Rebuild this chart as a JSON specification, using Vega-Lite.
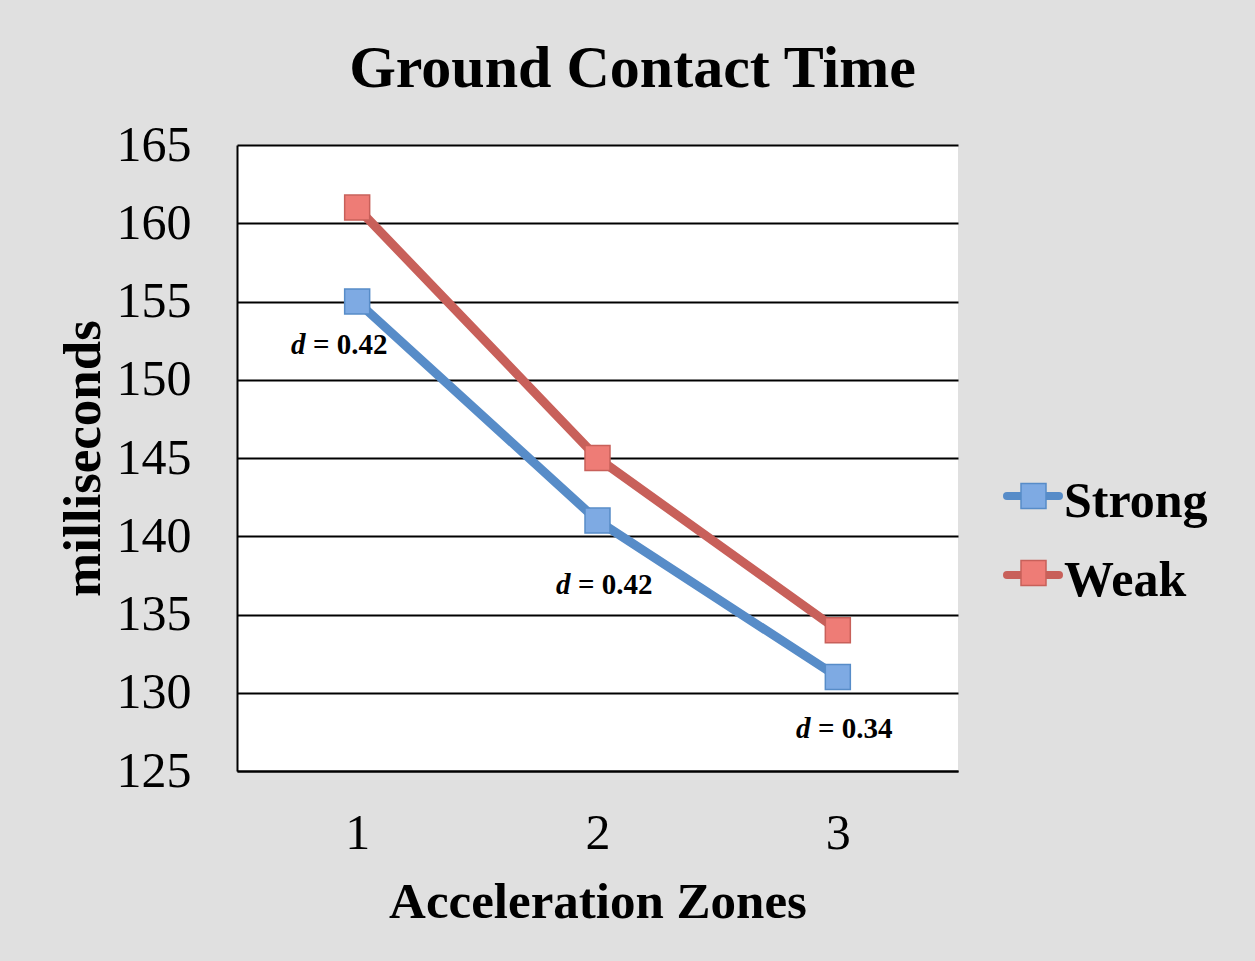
{
  "$schema": "https://vega.github.io/schema/vega-lite/v6.json",
  "width": 721,
  "height": 626,
  "autosize": {"type": "none"},
  "padding": {"left": 237, "top": 145, "right": 297, "bottom": 190},
  "background": "#e0e0e0",
  "view": {"fill": "white", "stroke": null},
  "title": {
    "text": "Ground Contact Time",
    "font": "Liberation Serif",
    "fontSize": 60,
    "fontWeight": "bold",
    "color": "black",
    "anchor": "middle",
    "frame": "group",
    "dx": 35,
    "baseline": "alphabetic",
    "offset": -27
  },
  "datasets": {
    "gct": [
      {"zone": 1, "group": "Strong", "ms": 155},
      {"zone": 2, "group": "Strong", "ms": 141},
      {"zone": 3, "group": "Strong", "ms": 131},
      {"zone": 1, "group": "Weak", "ms": 161},
      {"zone": 2, "group": "Weak", "ms": 145},
      {"zone": 3, "group": "Weak", "ms": 134}
    ],
    "notes": [
      {"zone": 1, "at": 0.725, "level": 152.2, "sym": "d", "stat": "= 0.42"},
      {"zone": 2, "at": 1.827, "level": 136.9, "sym": "d", "stat": "= 0.42"},
      {"zone": 3, "at": 2.826, "level": 127.7, "sym": "d", "stat": "= 0.34"}
    ]
  },
  "encoding": {
    "x": {
      "field": "zone",
      "type": "quantitative",
      "scale": {"domain": [0.5, 3.5], "nice": false, "zero": false},
      "axis": {
        "values": [1, 2, 3],
        "format": "d",
        "grid": false,
        "ticks": false,
        "tickSize": 0,
        "domain": true,
        "domainColor": "black",
        "domainWidth": 2,
        "labelFont": "Liberation Serif",
        "labelFontSize": 50,
        "labelColor": "black",
        "labelBaseline": "middle",
        "labelPadding": 62,
        "title": "Acceleration Zones",
        "titleFont": "Liberation Serif",
        "titleFontSize": 51,
        "titleFontWeight": "bold",
        "titleColor": "black",
        "titleBaseline": "middle",
        "titleY": 131
      }
    },
    "y": {
      "field": "ms",
      "type": "quantitative",
      "scale": {"domain": [125, 165], "nice": false, "zero": false},
      "axis": {
        "values": [125, 130, 135, 140, 145, 150, 155, 160, 165],
        "grid": true,
        "gridColor": "black",
        "gridWidth": 2,
        "gridOpacity": 1,
        "ticks": false,
        "tickSize": 0,
        "domain": true,
        "domainColor": "black",
        "domainWidth": 2,
        "labelFont": "Liberation Serif",
        "labelFontSize": 50,
        "labelColor": "black",
        "labelPadding": 46,
        "labelBaseline": "middle",
        "title": "milliseconds",
        "titleFont": "Liberation Serif",
        "titleFontSize": 53,
        "titleFontWeight": "bold",
        "titleColor": "black",
        "titleAngle": -90,
        "titleAlign": "center",
        "titleBaseline": "middle",
        "titleX": -154,
        "titleY": 313
      }
    }
  },
  "layer": [
    {
      "data": {"name": "gct"},
      "mark": {"type": "line", "strokeWidth": 9, "strokeCap": "round"},
      "encoding": {
        "stroke": {
          "field": "group",
          "type": "nominal",
          "scale": {"domain": ["Strong", "Weak"], "range": ["#578cc8", "#c8605a"]},
          "legend": {
            "title": null,
            "orient": "none",
            "legendX": 766,
            "legendY": 321,
            "padding": 0,
            "symbolType": "M-1,0H1",
            "symbolSize": 2704,
            "symbolStrokeWidth": 8,
            "labelFont": "Liberation Serif",
            "labelFontSize": 50,
            "labelFontWeight": "bold",
            "labelColor": "black",
            "labelOffset": 1,
            "rowPadding": 18,
            "encode": {
              "symbols": {"update": {"strokeCap": {"value": "round"}}},
              "labels": {"update": {"dy": {"value": 6}}}
            }
          }
        }
      }
    },
    {
      "data": {"name": "gct"},
      "mark": {"type": "point", "shape": "square", "filled": true, "size": 625, "strokeWidth": 1.5, "opacity": 1},
      "encoding": {
        "fill": {
          "field": "group",
          "type": "nominal",
          "scale": {"range": ["#7eaae3", "#ee7c76"]},
          "legend": {
            "title": null,
            "orient": "none",
            "legendX": 771.5,
            "legendY": 326,
            "padding": 0,
            "symbolType": "square",
            "symbolSize": 625,
            "symbolStrokeWidth": 1.5,
            "symbolOpacity": 1,
            "labelFont": "Liberation Serif",
            "labelFontSize": 50,
            "labelFontWeight": "bold",
            "labelExpr": "''",
            "labelOffset": 2,
            "rowPadding": 27,
            "encode": {"symbols": {"update": {"stroke": {"scale": "stroke", "field": "value"}}}}
          }
        },
        "stroke": {"field": "group", "type": "nominal", "legend": null}
      }
    },
    {
      "data": {"name": "notes"},
      "mark": {"type": "text", "font": "Liberation Serif", "fontSize": 29, "fontWeight": "bold", "fontStyle": "italic", "align": "left", "baseline": "middle", "color": "black"},
      "encoding": {
        "x": {"field": "at", "type": "quantitative"},
        "y": {"field": "level", "type": "quantitative"},
        "text": {"field": "sym"}
      }
    },
    {
      "data": {"name": "notes"},
      "mark": {"type": "text", "font": "Liberation Serif", "fontSize": 29, "fontWeight": "bold", "align": "left", "baseline": "middle", "dx": 22, "color": "black"},
      "encoding": {
        "x": {"field": "at", "type": "quantitative"},
        "y": {"field": "level", "type": "quantitative"},
        "text": {"field": "stat"}
      }
    }
  ]
}
